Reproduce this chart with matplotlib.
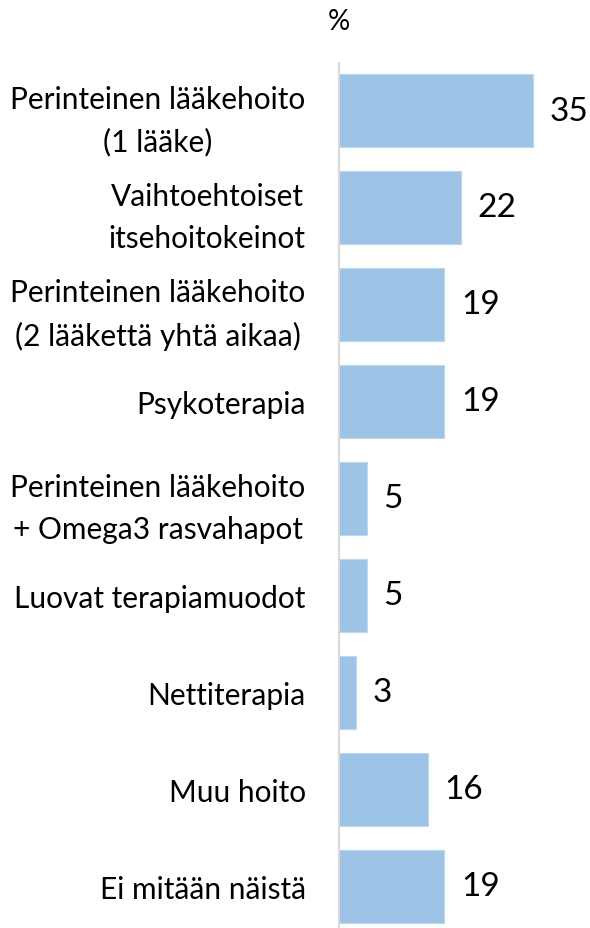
import matplotlib
matplotlib.use("Agg")
import matplotlib.pyplot as plt

plt.rcParams['font.family'] = ['Lato', 'DejaVu Sans']

categories = [
    "Perinteinen lääkehoito\n(1 lääke)",
    "Vaihtoehtoiset\nitsehoitokeinot",
    "Perinteinen lääkehoito\n(2 lääkettä yhtä aikaa)",
    "Psykoterapia",
    "Perinteinen lääkehoito\n+ Omega3 rasvahapot",
    "Luovat terapiamuodot",
    "Nettiterapia",
    "Muu hoito",
    "Ei mitään näistä",
]
values = [35, 22, 19, 19, 5, 5, 3, 16, 19]

bar_color = "#9DC3E6"

fig = plt.figure(figsize=(5.9, 9.29), dpi=100)
ax = fig.add_axes([339 / 590, 0, 251 / 590, 1 - 64 / 929])

pos = list(range(len(categories)))
ax.barh(pos, values, height=0.75, color=bar_color, edgecolor="#BDD7EE", linewidth=0.8)

ax.set_xlim(0, 251 / 5.54)
ax.set_ylim(8.43, -0.49)

# value labels to the right of each bar
for p, v in zip(pos, values):
    ax.annotate(str(v), (v, p), xytext=(12, 0), textcoords="offset points",
                ha="left", va="center", fontsize=24, color="black")

ax.set_yticks(pos)
ax.set_yticklabels(categories, fontsize=21.5, linespacing=1.6)
for t in ax.get_yticklabels():
    t.set_multialignment("center")
ax.tick_params(axis="y", length=0, pad=24)
ax.set_xticks([])

for s in ["top", "right", "bottom"]:
    ax.spines[s].set_visible(False)
ax.spines["left"].set_color("#D9D9D9")
ax.spines["left"].set_linewidth(1.5)

fig.text(339 / 590, 1 - 22 / 929, "%", ha="center", va="center", fontsize=20)

fig.savefig("out.png", dpi=100)
